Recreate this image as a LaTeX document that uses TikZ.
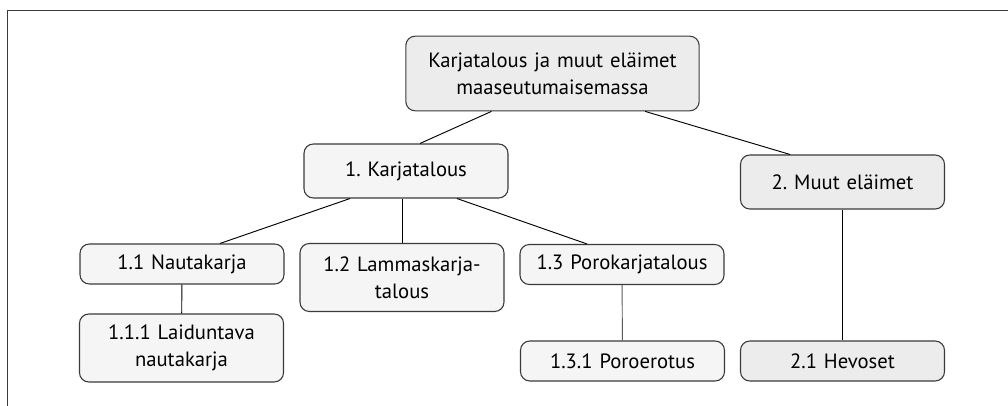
\documentclass[tikz,border=0pt]{standalone}
\usepackage{fontspec}
\setmainfont{PT Sans}
\usetikzlibrary{positioning, calc}
\definecolor{boxgray}{HTML}{EBECEB}
\definecolor{boxlight}{HTML}{F5F5F5}
\definecolor{edge}{HTML}{3A3A3A}
\frenchspacing

\begin{document}
\begin{tikzpicture}[
    x=0.75pt, y=-0.75pt,
    font=\fontsize{15.5}{20.5}\selectfont,
    block/.style={
        draw=edge,
        line width=0.8pt,
        rounded corners=7pt,
        align=center,
        text width=148pt,
        minimum width=153pt,
        minimum height=30pt,
        inner sep=0pt,
        fill=boxlight
    },
    topic/.style={block, fill=boxgray},
    link/.style={draw=black, line width=0.7pt},
    frame/.style={draw=edge, line width=1.1pt}
]
\useasboundingbox (0,0) rectangle (1008,406);

% frame lines
\draw[frame] (7.5,406) -- (7.5,10.5) -- (1008,10.5);

\node[topic, text width=215pt, minimum width=220pt, minimum height=56pt] (root) at (552.5,73.5) {Karjatalous ja muut eläimet\\maaseutumaisemassa};
\node[block, minimum height=40.5pt] (karja) at (406,171) {1. Karjatalous};
\node[topic, minimum height=40.5pt] (muut) at (842.5,182) {2. Muut eläimet};

\node[block] (nauta) at (182,264) {1.1 Nautakarja};
\node[block, minimum height=51pt] (lammas) at (402,277.5) {1.2 Lammaskarja-\\talous};
\node[block] (poro) at (622,264.5) {1.3 Porokarjatalous};

\node[block, minimum height=51pt] (laidun) at (181.5,348) {1.1.1 Laiduntava\\nautakarja};
\node[block] (erotus) at (622.5,361) {1.3.1 Poroerotus};
\node[topic] (hevo) at (842.5,361) {2.1 Hevoset};

\draw[link] ($(root.south)+(-61,0)$) -- ($(karja.north)+(14,0)$);
\draw[link] ($(root.south)+(92.5,0)$) -- ($(muut.north)+(-52.5,0)$);
\draw[link] ($(karja.south)+(-56,0)$) -- ($(nauta.north)+(38,0)$);
\draw[link] (lammas.north |- karja.south) -- (lammas.north);
\draw[link] ($(karja.south)+(51,0)$) -- ($(poro.north)+(-35,0)$);
\draw[link] (nauta) -- (laidun);
\draw[link, draw=black!65] (poro) -- (erotus);
\draw[link] (muut) -- (hevo);

\end{tikzpicture}
\end{document}
